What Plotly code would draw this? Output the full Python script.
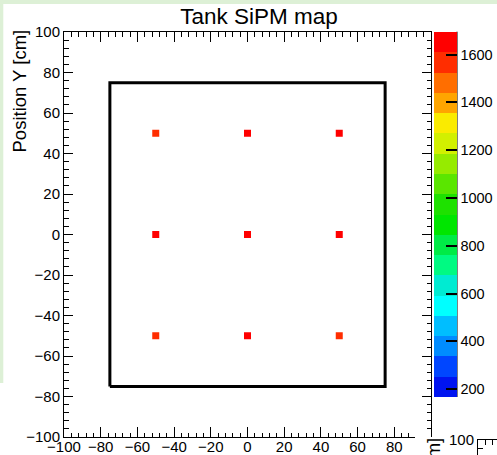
import plotly.graph_objects as go

# ---- data -------------------------------------------------------------
# SiPM positions in the tank (cm) and the counts recorded by each one
sipm_x = [-50, 0, 50, -50, 0, 50, -50, 0, 50]
sipm_y = [50, 50, 50, 0, 0, 0, -50, -50, -50]
sipm_counts = [1585, 1650, 1640, 1660, 1696, 1655, 1570, 1640, 1590]

# square tank outline, half side length in cm
tank_half = 75

# colour axis range and palette bands (lowest to highest)
z_min = 168
z_max = max(sipm_counts)
palette = [
    "rgb(0,20,240)", "rgb(0,70,255)", "rgb(0,140,255)", "rgb(0,190,255)",
    "rgb(0,255,255)", "rgb(0,235,210)", "rgb(0,250,130)", "rgb(0,235,70)",
    "rgb(0,230,0)", "rgb(30,225,0)", "rgb(90,230,0)", "rgb(150,235,0)",
    "rgb(210,240,0)", "rgb(250,235,0)", "rgb(255,165,0)", "rgb(255,110,0)",
    "rgb(255,45,0)", "rgb(255,0,0)",
]
colorbar_ticks = [200, 400, 600, 800, 1000, 1200, 1400, 1600]
axis_range = [-100, 100]
axis_step = 20
axis_minor_step = 4

# ---- canvas geometry (pixels) -------------------------------------------
W, H = 497, 455
FONT = "Liberation Sans, Arial, Helvetica, sans-serif"


def fx(px):
    return px / W


def fy(py):
    return 1 - py / H


frame_l, frame_r, frame_t, frame_b = 64, 431, 32, 437
px_per_x = (frame_r - frame_l) / (axis_range[1] - axis_range[0])
px_per_y = (frame_b - frame_t) / (axis_range[1] - axis_range[0])

# stepped colour scale built from the palette bands
n = len(palette)
colorscale = []
for i, c in enumerate(palette):
    colorscale.append([i / n, c])
    colorscale.append([(i + 1) / n, c])

tank_x = [-tank_half, tank_half, tank_half, -tank_half, -tank_half]
tank_y = [-tank_half, -tank_half, tank_half, tank_half, -tank_half]

fig = go.Figure()

fig.add_trace(go.Scatter(
    x=tank_x, y=tank_y, mode="lines",
    line=dict(color="black", width=3),
    hoverinfo="skip", showlegend=False,
))

fig.add_trace(go.Scatter(
    x=sipm_x, y=sipm_y, mode="markers",
    marker=dict(
        symbol="square", size=7, color=sipm_counts,
        colorscale=colorscale, cmin=z_min, cmax=z_max,
        line=dict(width=0),
        showscale=True,
        colorbar=dict(
            thickness=23, thicknessmode="pixels",
            len=397 - 31.7, lenmode="pixels",
            x=fx(434), xanchor="left", xpad=0,
            y=fy(31.7), yanchor="top", ypad=0,
            outlinewidth=0,
            tickmode="array", tickvals=colorbar_ticks,
            ticks="inside", ticklen=11, tickwidth=1.5, tickcolor="black",
            tickfont=dict(family=FONT, size=14.5, color="black"),
        ),
    ),
    showlegend=False,
))

# empty traces so the extra axes (bottom labels, neighbouring pad) get drawn
fig.add_trace(go.Scatter(x=[], y=[], xaxis="x3", yaxis="y",
                         showlegend=False, hoverinfo="skip"))
fig.add_trace(go.Scatter(x=[], y=[], xaxis="x2", yaxis="y2",
                         showlegend=False, hoverinfo="skip"))

common_axis = dict(
    range=axis_range, showgrid=False, zeroline=False,
    showline=True, linecolor="black", linewidth=1,
    ticks="inside", ticklen=10, tickwidth=1, tickcolor="black",
    tick0=0, dtick=axis_step,
    minor=dict(ticks="inside", ticklen=4.5, dtick=axis_minor_step,
               tick0=0, tickcolor="black", showgrid=False),
    tickfont=dict(family=FONT, size=15, color="black"),
)

# second, partly visible pad in the lower right corner
pad2_l, pad2_t = 478, 440

fig.update_layout(
    width=W, height=H,
    margin=dict(l=0, r=0, t=0, b=0, autoexpand=False),
    paper_bgcolor="white", plot_bgcolor="rgba(0,0,0,0)",
    font=dict(family=FONT, color="black"),
    title=dict(text="Tank SiPM map", x=fx(259), y=fy(16),
               xanchor="center", yanchor="middle", xref="paper",
               font=dict(family=FONT, size=22.5, color="black")),
    # data axis, drawn along the top edge of the frame
    xaxis=dict(common_axis, domain=[fx(frame_l), fx(frame_r)],
               side="top", anchor="y", showticklabels=False),
    yaxis=dict(common_axis, domain=[fy(frame_b), fy(frame_t)],
               anchor="x", mirror="ticks", ticklen=9),
    # bottom axis with labels (its right end is hidden by the next pad)
    xaxis3=dict(common_axis, domain=[fx(frame_l), fx(414)],
                range=[axis_range[0], axis_range[0] + (414 - frame_l) / px_per_x],
                side="bottom", anchor="y", ticklabelstandoff=-4),
    # frame corner of the neighbouring pad
    xaxis2=dict(common_axis, domain=[fx(pad2_l), 1],
                range=[axis_range[0], axis_range[0] + (W - pad2_l) / px_per_x],
                side="top", anchor="y2", showticklabels=False),
    yaxis2=dict(common_axis, domain=[0, fy(pad2_t)],
                range=[axis_range[1] - (H - pad2_t) / px_per_y, axis_range[1]],
                anchor="x2", ticklen=9),
    shapes=[
        dict(type="rect", xref="paper", yref="paper", layer="below",
             x0=0, x1=1, y0=fy(4), y1=1, line=dict(width=0),
             fillcolor="#ddf0d6"),
        dict(type="rect", xref="paper", yref="paper", layer="below",
             x0=0, x1=fx(3.3), y0=fy(383), y1=1, line=dict(width=0),
             fillcolor="#ddf0d6"),
        dict(type="line", xref="paper", yref="paper", layer="above",
             x0=fx(457), x1=fx(457), y0=fy(31.7), y1=fy(397),
             line=dict(color="black", width=1)),
    ],
    annotations=[
        dict(text="Position Y [cm]", xref="paper", yref="paper",
             x=fx(19), y=fy(28), xanchor="center", yanchor="top",
             textangle=-90, showarrow=False,
             font=dict(family=FONT, size=18.5, color="black")),
        dict(text="Position Y [cm]", xref="paper", yref="paper",
             x=fx(19 + pad2_l - frame_l), y=fy(28 + pad2_t - frame_t),
             xanchor="center", yanchor="top",
             textangle=-90, showarrow=False,
             font=dict(family=FONT, size=18.5, color="black")),
    ],
)

fig.write_html("out.html")
